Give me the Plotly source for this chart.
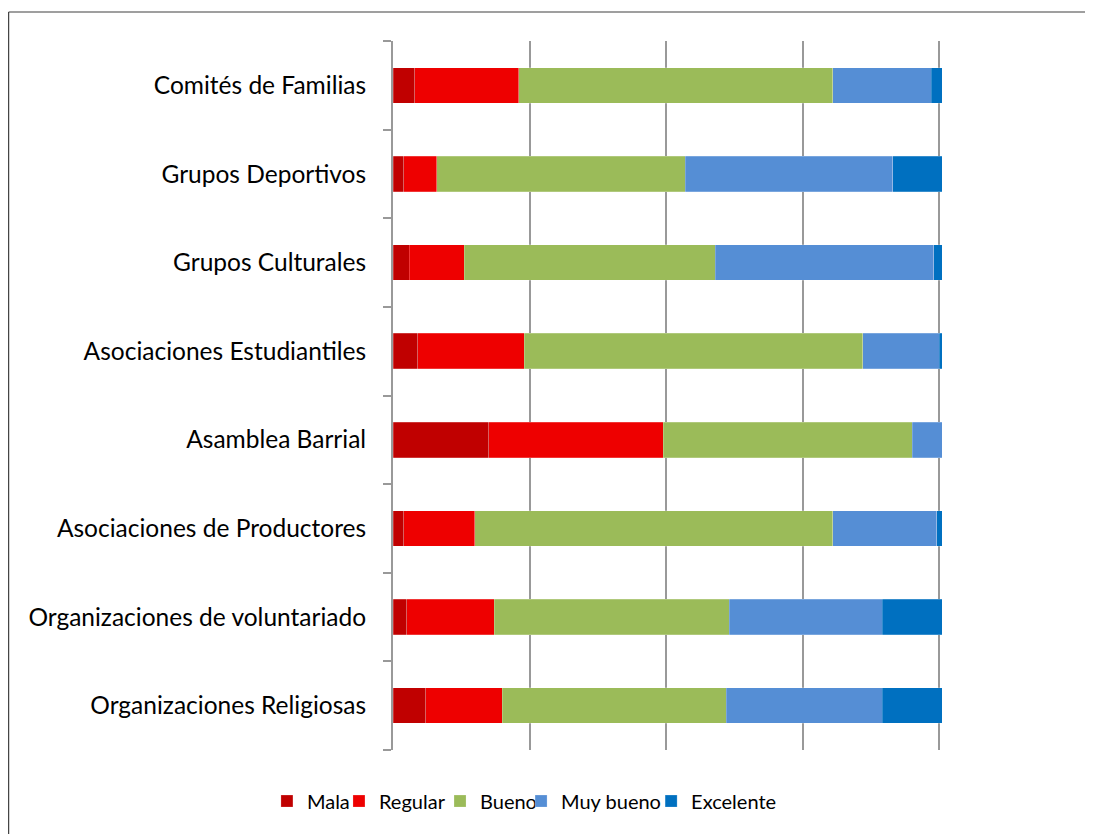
import plotly.graph_objects as go

organizaciones = [
    "Comités de Familias",
    "Grupos Deportivos",
    "Grupos Culturales",
    "Asociaciones Estudiantiles",
    "Asamblea Barrial",
    "Asociaciones de Productores",
    "Organizaciones de voluntariado",
    "Organizaciones Religiosas",
]

mala = [8, 4, 6, 9, 35, 4, 5, 12]
regular = [38, 12, 20, 39, 64, 26, 32, 28]
bueno = [115, 91, 92, 124, 91, 131, 86, 82]
muy_bueno = [36, 76, 80, 28, 11, 38, 56, 57]
excelente = [4, 18, 3, 1, 0, 2, 22, 22]

series = [
    ("Mala", mala, "#C00000"),
    ("Regular", regular, "#EE0000"),
    ("Bueno", bueno, "#9BBB59"),
    ("Muy bueno", muy_bueno, "#558ED5"),
    ("Excelente", excelente, "#0070C0"),
]

# plot area: 385 px from the left, 682.7 px wide
ancho_plot = 682.7
alto_plot = 709
izq = 385
# left edge of each legend entry (pixels in the figure)
pos_leyenda = [259, 331, 432, 513, 643]

fig = go.Figure()
leyendas = {}
for i, (nombre, valores, color) in enumerate(series):
    ley = "legend" if i == 0 else f"legend{i + 1}"
    fig.add_trace(go.Bar(
        y=organizaciones,
        x=valores,
        name=nombre,
        orientation="h",
        legend=ley,
        marker=dict(color=color, line=dict(width=0.6, color="rgba(255,255,255,0.35)")),
    ))
    leyendas[ley] = dict(
        x=(pos_leyenda[i] - izq) / ancho_plot,
        xanchor="left",
        y=-0.072,
        yanchor="middle",
        font=dict(size=20),
        itemwidth=30,
        bgcolor="rgba(0,0,0,0)",
    )

borde_x = (0.8 - izq) / ancho_plot
borde_y = 1 + 29 / alto_plot

fig.update_layout(
    barmode="stack",
    bargap=0.6,
    width=1085,
    height=826,
    margin=dict(l=385, r=17, t=33, b=84),
    paper_bgcolor="white",
    plot_bgcolor="white",
    font=dict(family="Lato, Open Sans, sans-serif", size=20, color="#000000"),
    showlegend=True,
    xaxis=dict(
        range=[0, 250],
        dtick=50,
        showticklabels=False,
        showgrid=True,
        gridcolor="#999999",
        gridwidth=2,
        zeroline=False,
        showline=False,
        ticks="",
    ),
    yaxis=dict(
        categoryorder="array",
        categoryarray=organizaciones[::-1],
        showline=True,
        linecolor="#999999",
        linewidth=2,
        ticks="outside",
        tickson="boundaries",
        ticklen=8,
        tickwidth=2,
        tickcolor="#999999",
        ticklabelstandoff=20,
        tickfont=dict(size=24.5),
        showgrid=False,
    ),
    shapes=[
        dict(type="line", xref="paper", yref="paper",
             x0=borde_x, x1=1.3, y0=borde_y, y1=borde_y,
             line=dict(color="#404040", width=1.2), layer="below"),
        dict(type="line", xref="paper", yref="paper",
             x0=borde_x, x1=borde_x, y0=-0.3, y1=borde_y,
             line=dict(color="#404040", width=1.2), layer="below"),
    ],
)
fig.update_layout(**leyendas)

fig.write_html("out.html")
